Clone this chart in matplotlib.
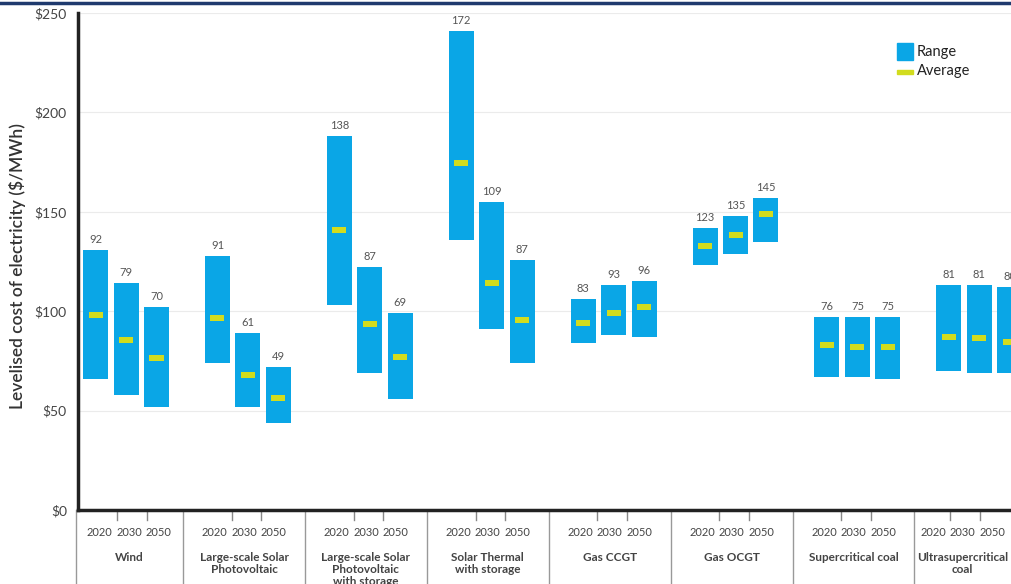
import numpy as np
import matplotlib.pyplot as plt

# Dados do gráfico
tecnologias = ['Wind', 'Large-scale Solar\nPhotovoltaic', 'Large-scale Solar\nPhotovoltaic\nwith storage',
               'Solar Thermal\nwith storage', 'Gas CCGT', 'Gas OCGT', 'Supercritical coal',
               'Ultrasupercritical\ncoal']
anos = ['2020', '2030', '2050']

minimo = [[66, 58, 52], [74, 52, 44], [103, 69, 56], [136, 91, 74],
          [84, 88, 87], [123, 129, 135], [67, 67, 66], [70, 69, 69]]
maximo = [[131, 114, 102], [128, 89, 72], [188, 122, 99], [241, 155, 126],
          [106, 113, 115], [142, 148, 157], [97, 97, 97], [113, 113, 112]]
media = [[98, 85.5, 76.5], [96.5, 68, 56.5], [141, 93.5, 77], [174.5, 114, 95.5],
         [94, 99, 102], [133, 138.5, 149], [83, 82, 82], [87, 86.5, 84.5]]
rotulos = [[92, 79, 70], [91, 61, 49], [138, 87, 69], [172, 109, 87],
           [83, 93, 96], [123, 135, 145], [76, 75, 75], [81, 81, 80]]

azul = '#0aa6e6'
amarelo = '#d2dc1e'
cinza_texto = '#444444'

plt.rcParams['font.family'] = ['Lato', 'DejaVu Sans']

fig = plt.figure(figsize=(10.11, 5.84), dpi=100)
ax = fig.add_axes([78 / 1011, 74 / 584, 1 - 78 / 1011, 497 / 584])

desloc = 0.25
largura = 0.205
for i in range(len(tecnologias)):
    for j in range(len(anos)):
        x = i + (j - 1) * desloc
        lo, hi = minimo[i][j], maximo[i][j]
        ax.bar(x, hi - lo, bottom=lo, width=largura, color=azul, zorder=3)
        ax.bar(x, 3, bottom=media[i][j] - 1.5, width=0.115, color=amarelo, zorder=4)
        ax.text(x, hi + 2.5, str(rotulos[i][j]), ha='center', va='bottom',
                fontsize=8, color='#555555', zorder=5)

xmin, xmax = -0.394, 7.26
ax.set_ylim(0, 250)
ax.set_xlim(xmin, xmax)
ax.set_yticks([0, 50, 100, 150, 200, 250])
ax.set_yticklabels(['$0', '$50', '$100', '$150', '$200', '$250'], fontsize=10, color=cinza_texto)
ax.tick_params(axis='y', length=0, pad=8)
ax.set_xticks([])
ax.grid(axis='y', color='#ebebeb', linewidth=0.8, zorder=0)
for lado in ['top', 'right']:
    ax.spines[lado].set_visible(False)
ax.spines['left'].set_linewidth(2.5)
ax.spines['left'].set_color('#222222')
ax.spines['bottom'].set_linewidth(2.5)
ax.spines['bottom'].set_color('#222222')
ax.set_ylabel('Levelised cost of electricity ($/MWh)', fontsize=12.5, fontweight='semibold',
              color='#333333')
ax.yaxis.set_label_coords(-0.056, 0.49)

# Rótulos do eixo x: anos, tecnologias e divisórias (centrados em cada célula)
trans = ax.get_xaxis_transform()
n = len(tecnologias)
divisorias = [i + 0.468 for i in range(n - 1)]
limites = [xmin - 0.02] + divisorias + [xmax]
for i, nome in enumerate(tecnologias):
    centro = (limites[i] + limites[i + 1]) / 2
    for j, ano in enumerate(anos):
        ax.text(centro + (j - 1) * 0.242, -0.045, ano, transform=trans, ha='center', va='center',
                fontsize=8, color=cinza_texto, clip_on=False)
    for k in (-0.5, 0.5):
        xt = centro + k * 0.242 + 0.02
        ax.plot([xt, xt], [0, -0.02], transform=trans, color='#888888', lw=1, clip_on=False)
    ax.text(centro, -0.085, nome, transform=trans, ha='center', va='top',
            fontsize=8.5, fontweight='bold', color=cinza_texto, linespacing=1.1, clip_on=False)
for xd in limites[:-1]:
    ax.plot([xd, xd], [0, -0.2], transform=trans, color='#999999', lw=1, clip_on=False)

# Legenda
fig.patches.append(plt.Rectangle((897 / 1011, 1 - 60 / 584), 16 / 1011, 17 / 584,
                                 transform=fig.transFigure, color=azul))
fig.patches.append(plt.Rectangle((897 / 1011, 1 - 74 / 584), 16 / 1011, 4 / 584,
                                 transform=fig.transFigure, color=amarelo))
fig.text(917 / 1011, 1 - 52 / 584, 'Range', fontsize=10.5, color='#222222', va='center')
fig.text(917 / 1011, 1 - 71 / 584, 'Average', fontsize=10.5, color='#222222', va='center')

# Linha azul escura no topo
fig.add_artist(plt.Line2D([0, 1], [1 - 3 / 584, 1 - 3 / 584], transform=fig.transFigure,
                          color='#1f3a6e', lw=2.5))

plt.savefig('out.png', dpi=100)
plt.close()
